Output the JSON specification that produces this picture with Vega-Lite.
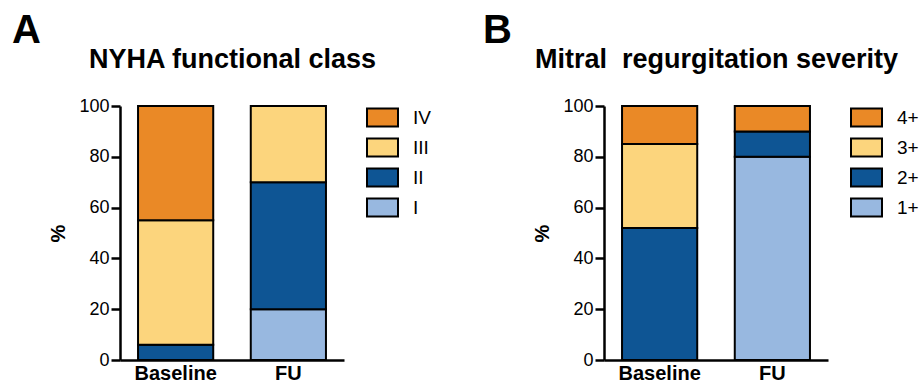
{
  "$schema": "https://vega.github.io/schema/vega-lite/v6.json",
  "background": "white",
  "padding": {"left": 12, "top": 11, "right": 0, "bottom": 0},
  "spacing": 52,
  "resolve": {"scale": {"color": "independent"}, "legend": {"color": "independent"}},
  "config": {
    "font": "Liberation Sans",
    "view": {"stroke": null},
    "axis": {"grid": false, "domainColor": "black", "tickColor": "black", "labelColor": "black", "titleColor": "black"},
    "legend": {"labelColor": "black"},
    "title": {"color": "black"}
  },
  "hconcat": [
    {
      "width": 224,
      "height": 254,
      "title": {"text": "A", "fontSize": 40, "fontWeight": "bold", "anchor": "start", "frame": "group", "dx": -108, "baseline": "alphabetic", "offset": -38},
      "data": {"values": [
        {"visit": "Baseline", "cls": "II", "pct": 6},
        {"visit": "Baseline", "cls": "III", "pct": 49},
        {"visit": "Baseline", "cls": "IV", "pct": 45},
        {"visit": "FU", "cls": "I", "pct": 20},
        {"visit": "FU", "cls": "II", "pct": 50},
        {"visit": "FU", "cls": "III", "pct": 30}
      ]},
      "layer": [
        {
          "mark": {"type": "bar", "stroke": "black", "strokeWidth": 2},
          "encoding": {
            "x": {"field": "visit", "type": "nominal", "sort": ["Baseline", "FU"],
                  "scale": {"paddingInner": 0.333, "paddingOuter": 0.16},
                  "axis": {"title": null, "ticks": false, "labelAngle": 0, "labelFontSize": 20, "labelFontWeight": "bold", "labelPadding": 3, "domainWidth": 2.5}},
            "y": {"field": "pct", "type": "quantitative", "stack": "zero",
                  "scale": {"domain": [0, 100], "nice": false},
                  "axis": {"values": [0, 20, 40, 60, 80, 100], "title": "%", "titleFontSize": 20, "titleFontWeight": "bold", "titlePadding": 10, "labelFontSize": 18, "labelPadding": 2, "tickSize": 9, "tickWidth": 2.5, "domainWidth": 2.5}},
            "color": {"field": "cls", "type": "nominal",
                      "scale": {"domain": ["IV", "III", "II", "I"], "range": ["#EA8926", "#FCD57D", "#0E5594", "#98B8E0"]},
                      "legend": {"title": null, "orient": "none", "legendX": 246, "legendY": -5, "labelFontSize": 19, "labelOffset": 14, "rowPadding": 0,
                                 "symbolType": "M-1,-0.58H1V0.58H-1Z", "symbolSize": 961, "symbolStrokeColor": "black", "symbolStrokeWidth": 2, "symbolOpacity": 1}},
            "order": {"field": "cls", "sort": "ascending"}
          }
        },
        {
          "mark": {"type": "point", "opacity": 0},
          "encoding": {
            "x": {"field": "visit", "type": "nominal",
                  "axis": {"orient": "top", "labels": false, "ticks": false, "domain": false, "title": "NYHA functional class", "titleFontSize": 27, "titleFontWeight": "bold", "titleBaseline": "alphabetic", "titlePadding": 39}}
          }
        }
      ],
      "resolve": {"scale": {"x": "independent"}}
    },
    {
      "width": 224,
      "height": 254,
      "title": {"text": "B", "fontSize": 40, "fontWeight": "bold", "anchor": "start", "frame": "group", "dx": -121, "baseline": "alphabetic", "offset": -38},
      "data": {"values": [
        {"visit": "Baseline", "cls": "2+", "pct": 52},
        {"visit": "Baseline", "cls": "3+", "pct": 33},
        {"visit": "Baseline", "cls": "4+", "pct": 15},
        {"visit": "FU", "cls": "1+", "pct": 80},
        {"visit": "FU", "cls": "2+", "pct": 10},
        {"visit": "FU", "cls": "4+", "pct": 10}
      ]},
      "layer": [
        {
          "mark": {"type": "bar", "stroke": "black", "strokeWidth": 2},
          "encoding": {
            "x": {"field": "visit", "type": "nominal", "sort": ["Baseline", "FU"],
                  "scale": {"paddingInner": 0.333, "paddingOuter": 0.16},
                  "axis": {"title": null, "ticks": false, "labelAngle": 0, "labelFontSize": 20, "labelFontWeight": "bold", "labelPadding": 3, "domainWidth": 2.5}},
            "y": {"field": "pct", "type": "quantitative", "stack": "zero",
                  "scale": {"domain": [0, 100], "nice": false},
                  "axis": {"values": [0, 20, 40, 60, 80, 100], "title": "%", "titleFontSize": 20, "titleFontWeight": "bold", "titlePadding": 10, "labelFontSize": 18, "labelPadding": 2, "tickSize": 9, "tickWidth": 2.5, "domainWidth": 2.5}},
            "color": {"field": "cls", "type": "nominal",
                      "scale": {"domain": ["4+", "3+", "2+", "1+"], "range": ["#EA8926", "#FCD57D", "#0E5594", "#98B8E0"]},
                      "legend": {"title": null, "orient": "none", "legendX": 246, "legendY": -5, "labelFontSize": 19, "labelOffset": 14, "rowPadding": 0,
                                 "symbolType": "M-1,-0.58H1V0.58H-1Z", "symbolSize": 961, "symbolStrokeColor": "black", "symbolStrokeWidth": 2, "symbolOpacity": 1}},
            "order": {"field": "cls", "sort": "ascending"}
          }
        },
        {
          "mark": {"type": "point", "opacity": 0},
          "encoding": {
            "x": {"field": "visit", "type": "nominal",
                  "axis": {"orient": "top", "labels": false, "ticks": false, "domain": false, "title": "Mitral\u00a0 regurgitation severity", "titleFontSize": 27, "titleFontWeight": "bold", "titleBaseline": "alphabetic", "titlePadding": 39}}
          }
        }
      ],
      "resolve": {"scale": {"x": "independent"}}
    }
  ]
}
